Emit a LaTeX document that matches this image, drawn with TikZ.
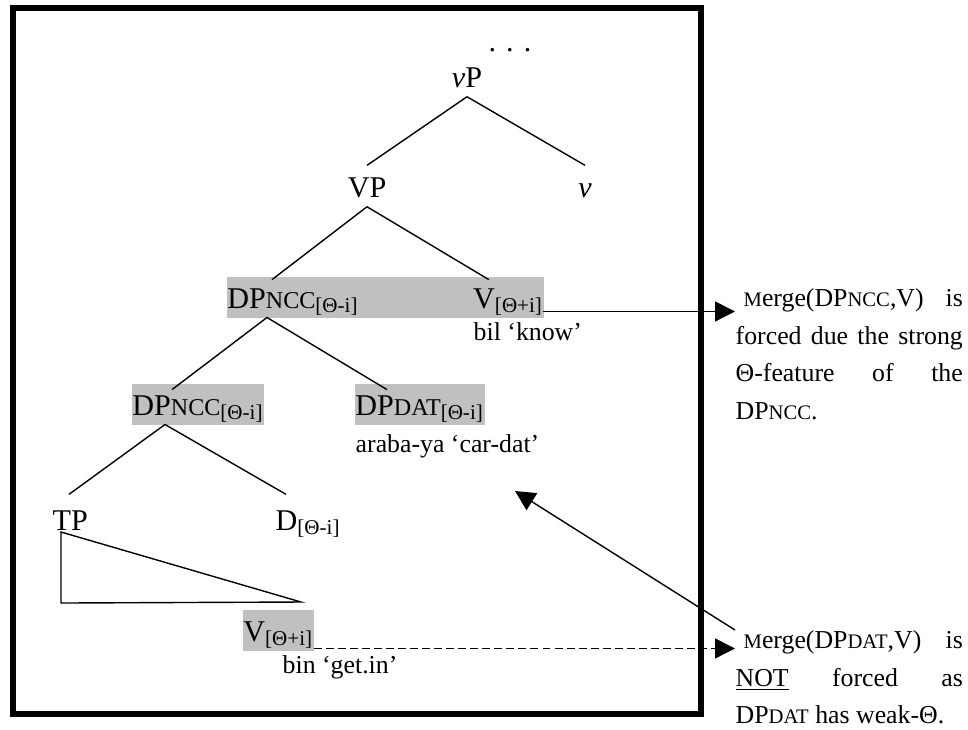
\documentclass[tikz,border=0pt]{standalone}
\usepackage{fontspec}
\setmainfont{Liberation Serif}
\usepackage{tikz}
\usetikzlibrary{arrows.meta,positioning}
\definecolor{hlgray}{RGB}{192,192,192}
\newcommand\bigtxt{\fontsize{14pt}{16pt}\selectfont}
\newcommand\smalltxt{\fontsize{12pt}{17.5pt}\selectfont}
\newcommand\smc[1]{{\fontsize{\dimexpr0.8\fontdimen6\font\relax}{0pt}\selectfont #1}}
\newcommand\fsub[1]{\textsubscript{#1}}

\begin{document}
\begin{tikzpicture}[x=0.465pt, y=-0.465pt, line width=0.65pt]

    \tikzstyle{cat} = [
        inner sep=0pt,
        font=\bigtxt,
        text height=14.4pt,
        text depth=4.2pt,
    ]
    \tikzstyle{shaded} = [
        cat,
        fill=hlgray,
        draw=hlgray,
        line width=0.4pt,
    ]
    \tikzstyle{gloss} = [
        inner sep=0pt,
        font=\smalltxt,
        anchor=base west,
    ]
    \tikzstyle{note} = [
        inner sep=0pt,
        font=\smalltxt,
        text width=105.6pt,
        align=justify,
        anchor=north west,
    ]
    \tikzstyle{line} = [
        draw,
        -{Triangle[length=9.3pt, width=9.3pt]},
    ]

    \useasboundingbox (0,0) rectangle (968,729);
    \draw[line width=2.8pt] (13,8) rectangle (700.5,714);

    % top of the tree
    \node [cat, anchor=base] (dots) at (510,51) {. . .};
    \node [cat, anchor=base] (vp)   at (467,87) {\textit{v}P};
    \node [cat, anchor=base] (vpb)  at (367,197) {VP};
    \node [cat, anchor=base] (vv)   at (585,197) {\textit{v}};

    \draw (vp.south) -- (vpb.north);
    \draw (vp.south) -- (vv.north);

    % shaded row, the shading runs on up to V
    \node [shaded, anchor=base west, text width=113.9pt, align=left] (dpa) at (227,308) {DP\smc{NCC}\fsub{[Θ-i]}};
    \node [shaded, anchor=base west] (va) at (dpa.base east) {V\fsub{[Θ+i]}};
    \node [gloss] (gva) at (473,340) {bil ‘know’};

    \draw (vpb.south) -- ([shift={(45,3)}]dpa.north west);
    \draw (vpb.south) -- ([shift={(16,3)}]va.north west);

    \node [shaded, anchor=base west] (dpb) at (132,415) {DP\smc{NCC}\fsub{[Θ-i]}};
    \node [shaded, anchor=base west] (dpc) at (355,415) {DP\smc{DAT}\fsub{[Θ-i]}};
    \node [gloss] (gdpc) at (355,452) {araba-ya ‘car-dat’};

    \draw ([shift={(40,0)}]dpa.south west) -- ([shift={(40,6)}]dpb.north west);
    \draw ([shift={(40,0)}]dpa.south west) -- ([shift={(32,6)}]dpc.north west);

    \node [cat, anchor=base west] (tp) at (52,530) {TP};
    \node [cat, anchor=base west] (dd) at (275,530) {D\fsub{[Θ-i]}};

    \draw ([shift={(33,0)}]dpb.south west) -- ([shift={(17,-4)}]tp.north west);
    \draw ([shift={(33,0)}]dpb.south west) -- ([shift={(11,-4)}]dd.north west);

    % roof over TP
    \draw (61,532) -- (61,603) -- (301,602) -- cycle;

    \node [shaded, anchor=base west] (vb) at (243,641) {V\fsub{[Θ+i]}};
    \node [gloss] (gvb) at (282,673) {bin ‘get.in’};

    % notes on the right
    \node [note] (ma) at (735,288) {\hspace*{3.7pt}\smc{M}erge(DP\smc{NCC},V) is\linebreak
        forced due the strong\linebreak
        Θ-feature of the\linebreak
        DP\smc{NCC}.};
    \node [note] (mb) at (735,630) {\hspace*{3.7pt}\smc{M}erge(DP\smc{DAT},V) is\linebreak
        \underline{NOT} forced as\linebreak
        DP\smc{DAT} has \mbox{weak-Θ.}};

    \coordinate (vaend) at ([shift={(0,-6)}]va.south east);
    \coordinate (vbend) at ([shift={(0,-2)}]vb.south east);
    \coordinate (dattip) at (515,491);

    \path [line] (vaend) -- (vaend -| ma.west);
    \path [line, dash pattern=on 3.7pt off 1.9pt] (vbend) -- (vbend -| mb.west);
    \path [line] (mb.north west) -- (dattip);

\end{tikzpicture}
\end{document}
